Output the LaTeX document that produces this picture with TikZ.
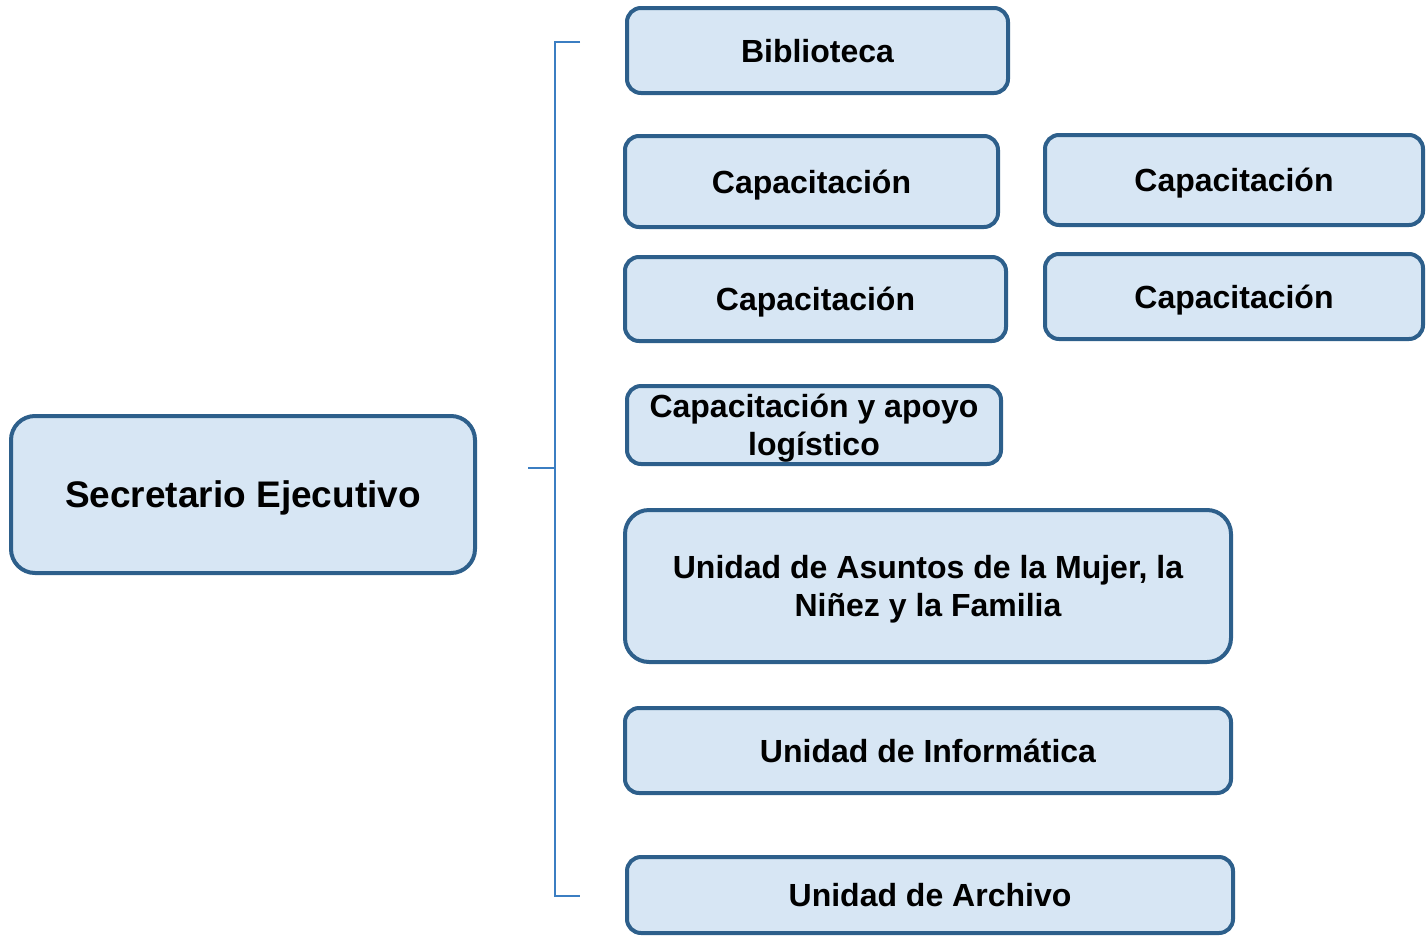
\documentclass[tikz,border=0pt]{standalone}
\usepackage{fontspec}
\setmainfont{Liberation Sans}
\definecolor{boxfill}{HTML}{D7E6F4}
\definecolor{boxline}{HTML}{2D5F8B}
\definecolor{brk}{HTML}{3B7EC2}
\begin{document}
\begin{tikzpicture}[x=1pt,y=-1pt,
  unitbox/.style={draw=boxline, fill=boxfill, line width=4pt, rounded corners=14pt,
    inner sep=0pt, align=center, text depth=0pt, font=\bfseries\fontsize{32}{38}\selectfont},
  bracketline/.style={draw=brk, line width=2pt}]
\useasboundingbox (0,0) rectangle (1427,935);
\node[unitbox, minimum width=381pt, minimum height=85pt] (bib) at (817.5,50.5) {Biblioteca};
\node[unitbox, minimum width=373pt, minimum height=91pt] (cap1) at (811.5,181.5) {Capacitación};
\node[unitbox, minimum width=378pt, minimum height=90pt] (cap2) at (1234,180) {Capacitación};
\node[unitbox, minimum width=381pt, minimum height=84pt] (cap3) at (815.5,299) {Capacitación};
\node[unitbox, minimum width=378pt, minimum height=85pt] (cap4) at (1234,296.5) {Capacitación};
\node[unitbox, minimum width=374pt, minimum height=78pt] (capa) at (814,425) {Capacitación y apoyo\\logístico};
\node[unitbox, minimum width=606pt, minimum height=152pt, rounded corners=24pt] (mujer) at (928,586) {Unidad de Asuntos de la Mujer, la\\Niñez y la Familia};
\node[unitbox, minimum width=606pt, minimum height=85pt] (info) at (928,750.5) {Unidad de Informática};
\node[unitbox, minimum width=606pt, minimum height=76pt] (arch) at (930,895) {Unidad de Archivo};
\node[unitbox, minimum width=464pt, minimum height=157pt, rounded corners=24pt,
  font=\bfseries\fontsize{37}{44}\selectfont] (sec) at (243,494.5) {Secretario Ejecutivo};
\coordinate (btop) at (580,42);
\coordinate (bbot) at (580,896);
\coordinate (bmid) at (528,468);
\draw[bracketline] (btop) -- (555,42) -- (555,896) -- (bbot);
\draw[bracketline] (bmid) -- (555,468);
\end{tikzpicture}
\end{document}
